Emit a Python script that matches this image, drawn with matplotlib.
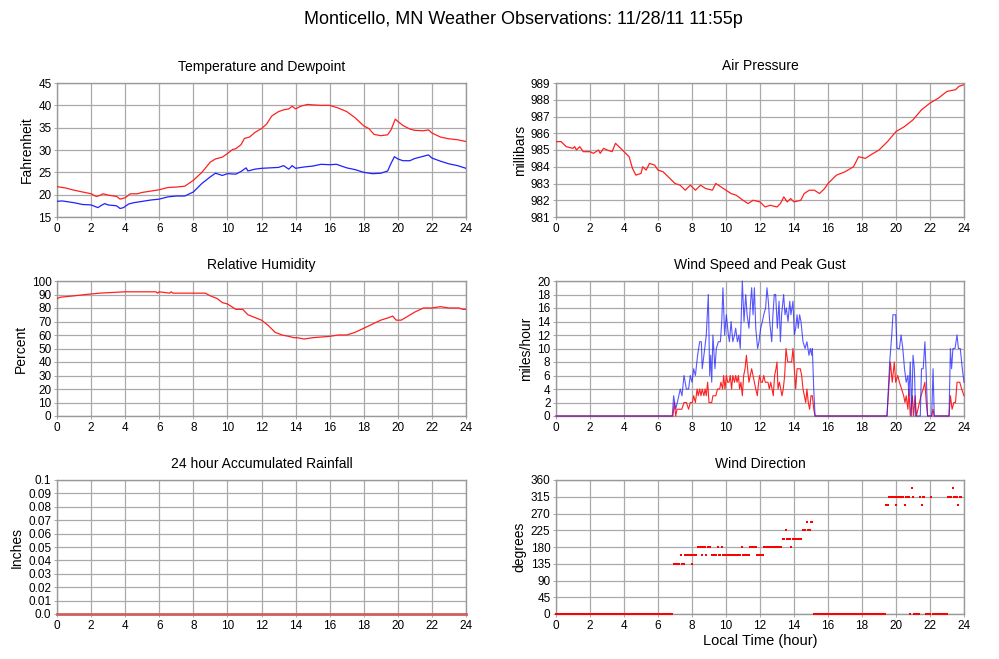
import matplotlib
matplotlib.use("Agg")
import matplotlib.pyplot as plt
import numpy as np

plt.rcParams['font.family'] = ['Liberation Sans', 'DejaVu Sans']

# ---------------- data ----------------
temp_t = [0, 0.5, 1, 1.5, 2, 2.3, 2.5, 2.7, 3, 3.5, 3.7, 4, 4.3, 4.7, 5, 5.5, 6, 6.5, 7, 7.5,
          8, 8.5, 9, 9.3, 9.7, 10, 10.3, 10.5, 10.8, 11, 11.3, 11.6, 12, 12.3, 12.6, 13, 13.3,
          13.6, 13.8, 14, 14.3, 14.7, 15, 15.5, 16, 16.5, 17, 17.5, 18, 18.3, 18.6, 19, 19.4,
          19.6, 19.85, 20, 20.3, 20.7, 21, 21.5, 21.8, 22, 22.5, 23, 23.5, 24]
temp_f = [21.8, 21.5, 21.0, 20.6, 20.2, 19.6, 19.8, 20.2, 19.9, 19.6, 19.0, 19.3, 20.2, 20.2,
          20.5, 20.8, 21.1, 21.6, 21.7, 21.9, 23.2, 25.0, 27.3, 28.0, 28.4, 29.2, 30.1, 30.3,
          31.2, 32.6, 32.9, 33.9, 34.8, 35.8, 37.6, 38.6, 39.0, 39.2, 39.8, 39.2, 39.8, 40.2,
          40.1, 40.0, 40.0, 39.4, 38.6, 37.2, 35.4, 34.8, 33.5, 33.2, 33.4, 34.5, 36.9, 36.4,
          35.5, 34.7, 34.4, 34.3, 34.5, 33.8, 32.9, 32.5, 32.3, 31.9]

dew_t = [0, 0.3, 1, 1.5, 2, 2.2, 2.4, 2.6, 2.8, 3, 3.5, 3.7, 3.9, 4.2, 4.5, 5, 5.5, 6, 6.5, 7,
         7.5, 8, 8.5, 9, 9.3, 9.7, 10, 10.5, 10.8, 11.1, 11.2, 11.6, 12, 12.5, 13, 13.3, 13.6,
         13.8, 14, 14.5, 15, 15.5, 16, 16.4, 17, 17.5, 18, 18.5, 19, 19.4, 19.6, 19.8, 20,
         20.3, 20.7, 21, 21.5, 21.8, 22, 22.5, 23, 23.5, 24]
dew_f = [18.5, 18.6, 18.2, 17.8, 17.7, 17.4, 17.1, 17.6, 18.0, 17.7, 17.5, 16.9, 17.1, 17.9,
         18.2, 18.5, 18.8, 19.0, 19.5, 19.7, 19.7, 20.6, 22.5, 24.0, 24.8, 24.3, 24.7, 24.6,
         25.2, 26.0, 25.3, 25.7, 25.9, 26.0, 26.1, 26.5, 25.7, 26.5, 25.9, 26.2, 26.4, 26.8,
         26.7, 26.8, 26.0, 25.6, 25.0, 24.7, 24.8, 25.3, 27.0, 28.5, 28.0, 27.6, 27.6, 28.1,
         28.6, 28.9, 28.2, 27.5, 26.9, 26.5, 25.9]

pres_t = [0, 0.3, 0.6, 1, 1.1, 1.2, 1.4, 1.6, 2, 2.2, 2.5, 2.6, 2.8, 3, 3.3, 3.5, 3.8, 4, 4.3,
          4.5, 4.7, 5, 5.1, 5.3, 5.5, 5.8, 6, 6.3, 6.7, 7, 7.3, 7.6, 7.9, 8.2, 8.5, 8.8, 9.2,
          9.4, 9.7, 10, 10.3, 10.6, 11, 11.3, 11.6, 12, 12.3, 12.6, 13, 13.2, 13.4, 13.6, 13.8,
          14, 14.4, 14.6, 14.9, 15.2, 15.5, 15.8, 16, 16.5, 17, 17.5, 17.8, 18.2, 18.5, 19,
          19.5, 20, 20.5, 21, 21.5, 22, 22.5, 23, 23.5, 23.7, 24]
pres_mb = [985.5, 985.5, 985.2, 985.1, 985.2, 985.0, 985.2, 984.9, 984.9, 984.8, 985.0, 984.8,
           985.1, 985.0, 984.9, 985.4, 985.1, 984.9, 984.6, 983.9, 983.5, 983.6, 984.0, 983.8,
           984.2, 984.1, 983.8, 983.7, 983.3, 983.0, 982.9, 982.6, 982.9, 982.6, 982.9, 982.7,
           982.6, 983.0, 982.8, 982.6, 982.4, 982.3, 982.0, 981.8, 982.0, 981.9, 981.6, 981.7,
           981.6, 981.8, 982.2, 981.9, 982.1, 981.9, 982.0, 982.4, 982.6, 982.6, 982.4, 982.7,
           983.0, 983.5, 983.7, 984.0, 984.6, 984.5, 984.7, 985.0, 985.5, 986.1, 986.4, 986.8,
           987.4, 987.8, 988.1, 988.5, 988.6, 988.8, 988.9]

rh_t = [0, 0.2, 1, 1.7, 2.5, 4, 5.8, 5.9, 6, 6.6, 6.7, 6.8, 8.7, 9, 9.4, 9.7, 10, 10.5, 10.9,
        11.2, 11.6, 11.8, 12, 12.4, 12.8, 13.2, 13.6, 13.9, 14.1, 14.5, 15, 15.5, 16, 16.5,
        17, 17.5, 18, 18.5, 19, 19.5, 19.7, 19.9, 20.2, 20.6, 21, 21.5, 22, 22.5, 23, 23.6,
        23.8, 24]
rh_pct = [87, 88, 89, 90, 91, 92, 92, 91, 92, 91, 92, 91, 91, 89, 87, 84, 83, 79, 79, 75, 73,
          72, 71, 67, 62, 60, 59, 58, 58, 57, 58, 58.5, 59, 60, 60, 62, 65, 68, 71, 73, 74, 71,
          71, 74, 77, 80, 80, 81, 80, 80, 79, 79]

gust_t = [0, 6.84, 6.92, 7.04, 7.18, 7.31, 7.41, 7.53, 7.67, 7.8, 7.9, 8.0, 8.1, 8.2, 8.33,
          8.45, 8.55, 8.6, 8.75, 8.84, 8.96, 9.04, 9.1, 9.16, 9.23, 9.35, 9.43, 9.55, 9.67,
          9.75, 9.82, 9.92, 10.02, 10.14, 10.2, 10.3, 10.4, 10.5, 10.57, 10.67, 10.76, 10.84,
          10.96, 11.06, 11.16, 11.24, 11.35, 11.45, 11.51, 11.59, 11.67, 11.75, 11.86, 11.94,
          12.04, 12.14, 12.22, 12.33, 12.41, 12.49, 12.57, 12.69, 12.76, 12.84, 12.92, 13.02,
          13.12, 13.2, 13.27, 13.39, 13.47, 13.55, 13.65, 13.75, 13.82, 13.94, 14.02, 14.1,
          14.18, 14.25, 14.33, 14.41, 14.53, 14.65, 14.76, 14.88, 14.96, 15.04, 15.08, 15.16,
          15.24, 19.47, 19.63, 19.75, 19.82, 19.98, 20.06, 20.2, 20.3, 20.4, 20.5, 20.6, 20.7,
          20.76, 20.84, 20.92, 21.0, 21.08, 21.16, 21.43, 21.5, 21.6, 21.7, 21.78, 21.86,
          22.1, 22.18, 22.25, 23.12, 23.2, 23.27, 23.35, 23.47, 23.59, 23.67, 23.78, 23.9, 24.0]
gust_mph = [0, 0, 3, 1, 2.5, 4, 3, 6, 4, 4, 6, 5, 7, 6, 9, 11, 11, 7, 10, 12, 18, 6, 9, 5, 12,
            7, 10, 11, 11, 14, 19, 12, 15, 12, 11, 14, 11, 12, 13, 11, 12, 10, 20, 14, 18, 15,
            13, 17, 19, 15, 19, 13, 10, 11, 13, 14, 15, 16, 19, 17, 14, 11, 15, 18, 18, 13, 17,
            11, 15, 18, 15, 16, 14, 17, 15, 17, 12, 13, 15, 13, 15, 14, 11, 10, 11, 9, 10, 9,
            10, 4, 0, 0, 8, 12, 15, 15, 10, 10, 12, 10, 7, 5, 6, 3, 8, 0, 9, 7, 0, 0, 7, 7, 11,
            6, 0, 0, 7, 0, 0, 10, 7, 10, 10, 12, 10, 10, 7, 5]

speed_t = [0, 6.88, 6.96, 7.04, 7.12, 7.24, 7.4, 7.53, 7.67, 7.8, 7.9, 8.02, 8.1, 8.2, 8.3,
           8.37, 8.45, 8.53, 8.6, 8.7, 8.77, 8.84, 8.92, 9.0, 9.16, 9.23, 9.4, 9.5, 9.63, 9.7,
           9.8, 9.86, 9.94, 10.02, 10.1, 10.18, 10.25, 10.33, 10.4, 10.5, 10.57, 10.65, 10.73,
           10.8, 10.88, 10.96, 11.04, 11.12, 11.2, 11.27, 11.35, 11.43, 11.51, 11.59, 11.67,
           11.75, 11.84, 11.92, 11.98, 12.06, 12.14, 12.22, 12.31, 12.39, 12.47, 12.55, 12.63,
           12.71, 12.78, 12.86, 12.94, 13.0, 13.06, 13.14, 13.22, 13.29, 13.37, 13.45, 13.53,
           13.63, 13.73, 13.86, 13.94, 14.02, 14.1, 14.18, 14.25, 14.37, 14.45, 14.53, 14.61,
           14.69, 14.76, 14.84, 14.92, 15.0, 15.08, 15.16, 15.24, 19.47, 19.67, 19.78, 19.9,
           19.98, 20.1, 20.2, 20.33, 20.45, 20.53, 20.6, 20.7, 20.76, 20.84, 20.96, 21.04,
           21.12, 21.2, 21.47, 21.6, 21.7, 21.78, 21.86, 22.1, 22.18, 22.25, 23.12, 23.2, 23.3,
           23.4, 23.5, 23.59, 23.75, 23.86, 24.0]
speed_mph = [0, 0, 2, 0, 1, 1, 1, 2, 2, 1, 2, 2, 3, 2, 4, 3, 4, 3, 4, 3, 4, 3, 5, 2, 2, 3, 3,
             4, 4, 5, 4, 6, 4, 6, 5, 5, 6, 4, 6, 5, 6, 5, 6, 4, 5, 3, 6, 7, 9, 7, 5, 6, 7, 6,
             5, 4, 3, 5, 6, 5, 5, 6, 5, 5, 5, 4, 5, 4, 3, 6, 7, 8, 4, 5, 4, 3, 4, 6, 10, 8, 8,
             8, 10, 7, 4, 7, 7, 7, 6, 4, 3, 2, 4, 2, 1, 3, 3, 1, 0, 0, 8, 5, 8, 5, 6, 5, 4, 3,
             2, 3, 1, 4, 0, 3, 0, 3, 0, 3, 4, 5, 2, 0, 0, 1, 0, 0, 3, 1, 2, 2, 5, 5, 4, 3]

# wind direction, 5-minute observations, run-length encoded (value, number of obs)
dir_runs = [(0, 83), (135, 5), (157.5, 1), (135, 2), (157.5, 5), (135, 1), (157.5, 3),
            (180, 3), (157.5, 1), (180, 2), (157.5, 1), (180, 3), (157.5, 4), (180, 1),
            (157.5, 2), (180, 1), (157.5, 13), (180, 1), (157.5, 5), (180, 5), (157.5, 5),
            (180, 13), (202.5, 2), (225, 1), (202.5, 3), (180, 1), (202.5, 7), (225, 3),
            (247.5, 1), (225, 2), (247.5, 2), (0, 51), (292.5, 2), (315, 5), (292.5, 1),
            (315, 5), (292.5, 1), (315, 3), (0, 1), (337.5, 1), (315, 1), (0, 4), (315, 1),
            (292.5, 1), (315, 2), (0, 4), (315, 1), (0, 11), (315, 3), (337.5, 1), (315, 3),
            (292.5, 1), (315, 2)]
dir_interval_h = 5 / 60

rain_t = [0, 24]
rain_in = [0.0, 0.0]

x_ticks = list(range(0, 25, 2))

# ---------------- figure ----------------
W, H = 999, 659
fig = plt.figure(figsize=(W / 100, H / 100), dpi=100)

def ax_at(x0, y0, x1, y1):
    return fig.add_axes([x0 / W, 1 - y1 / H, (x1 - x0) / W, (y1 - y0) / H])

LX0, LX1 = 57, 466
RX0, RX1 = 556, 964
rows = [(83, 217), (281, 416), (480, 614)]

axs = {
    'temp': ax_at(LX0, rows[0][0], LX1, rows[0][1]),
    'pres': ax_at(RX0, rows[0][0], RX1, rows[0][1]),
    'rh': ax_at(LX0, rows[1][0], LX1, rows[1][1]),
    'wind': ax_at(RX0, rows[1][0], RX1, rows[1][1]),
    'rain': ax_at(LX0, rows[2][0], LX1, rows[2][1]),
    'dir': ax_at(RX0, rows[2][0], RX1, rows[2][1]),
}

RED = '#ff2020'
BLUE = '#2020ff'

def style(ax, title, ylabel, yticks, ylim, yticklabels=None):
    ax.set_xlim(0, 24)
    ax.set_ylim(*ylim)
    ax.set_xticks(x_ticks)
    ax.set_yticks(yticks)
    if yticklabels is not None:
        ax.set_yticklabels(yticklabels)
    ax.grid(True, color='#aaaaaa', linewidth=0.9)
    ax.set_axisbelow(True)
    for s in ax.spines.values():
        s.set_color('#999999')
        s.set_linewidth(1.0)
    ax.tick_params(axis='both', labelsize=8.5, length=2, width=0.6, color='#999999', pad=2)
    ax.set_title(title, fontsize=10, pad=9)
    ax.set_ylabel(ylabel, fontsize=10, labelpad=3)

LZ = 3

a = axs['temp']
a.plot(temp_t, temp_f, color=RED, lw=0.9, zorder=LZ)
a.plot(dew_t, dew_f, color=BLUE, lw=0.9, zorder=LZ)
style(a, 'Temperature and Dewpoint', 'Fahrenheit', range(15, 46, 5), (15, 45))

a = axs['pres']
a.plot(pres_t, pres_mb, color=RED, lw=0.9, zorder=LZ)
style(a, 'Air Pressure', 'millibars', range(981, 990), (981, 989))

a = axs['rh']
a.plot(rh_t, rh_pct, color=RED, lw=0.9, zorder=LZ)
style(a, 'Relative Humidity', 'Percent', range(0, 101, 10), (0, 100))

a = axs['wind']
a.plot(speed_t, speed_mph, color=RED, lw=0.8, zorder=LZ, clip_on=False)
a.plot(gust_t, gust_mph, color=BLUE, lw=0.8, alpha=0.75, zorder=LZ, clip_on=False)
style(a, 'Wind Speed and Peak Gust', 'miles/hour', range(0, 21, 2), (0, 20))

a = axs['rain']
a.plot(rain_t, rain_in, color='#d06060', lw=2.0, clip_on=False, zorder=LZ)
rain_ticks = [i / 100 for i in range(0, 11)]
rain_labels = ['0.0'] + ['%.2f' % v for v in rain_ticks[1:10]] + ['0.1']
style(a, '24 hour Accumulated Rainfall', 'Inches', rain_ticks, (0, 0.1), rain_labels)

a = axs['dir']
dir_vals = [v for v, n in dir_runs for _ in range(n)]
dir_t = [i * dir_interval_h for i in range(len(dir_vals))]
a.plot(dir_t, dir_vals, linestyle='none', marker='s', markersize=2.1, color='#ff0000',
       markeredgewidth=0, clip_on=False, zorder=LZ)
style(a, 'Wind Direction', 'degrees', range(0, 361, 45), (0, 360))
a.set_xlabel('Local Time (hour)', fontsize=10.5, labelpad=2)

fig.text(523 / W, 1 - 19 / H, 'Monticello, MN Weather Observations: 11/28/11 11:55p',
         ha='center', va='center', fontsize=13)

fig.savefig('out.png', dpi=100)
